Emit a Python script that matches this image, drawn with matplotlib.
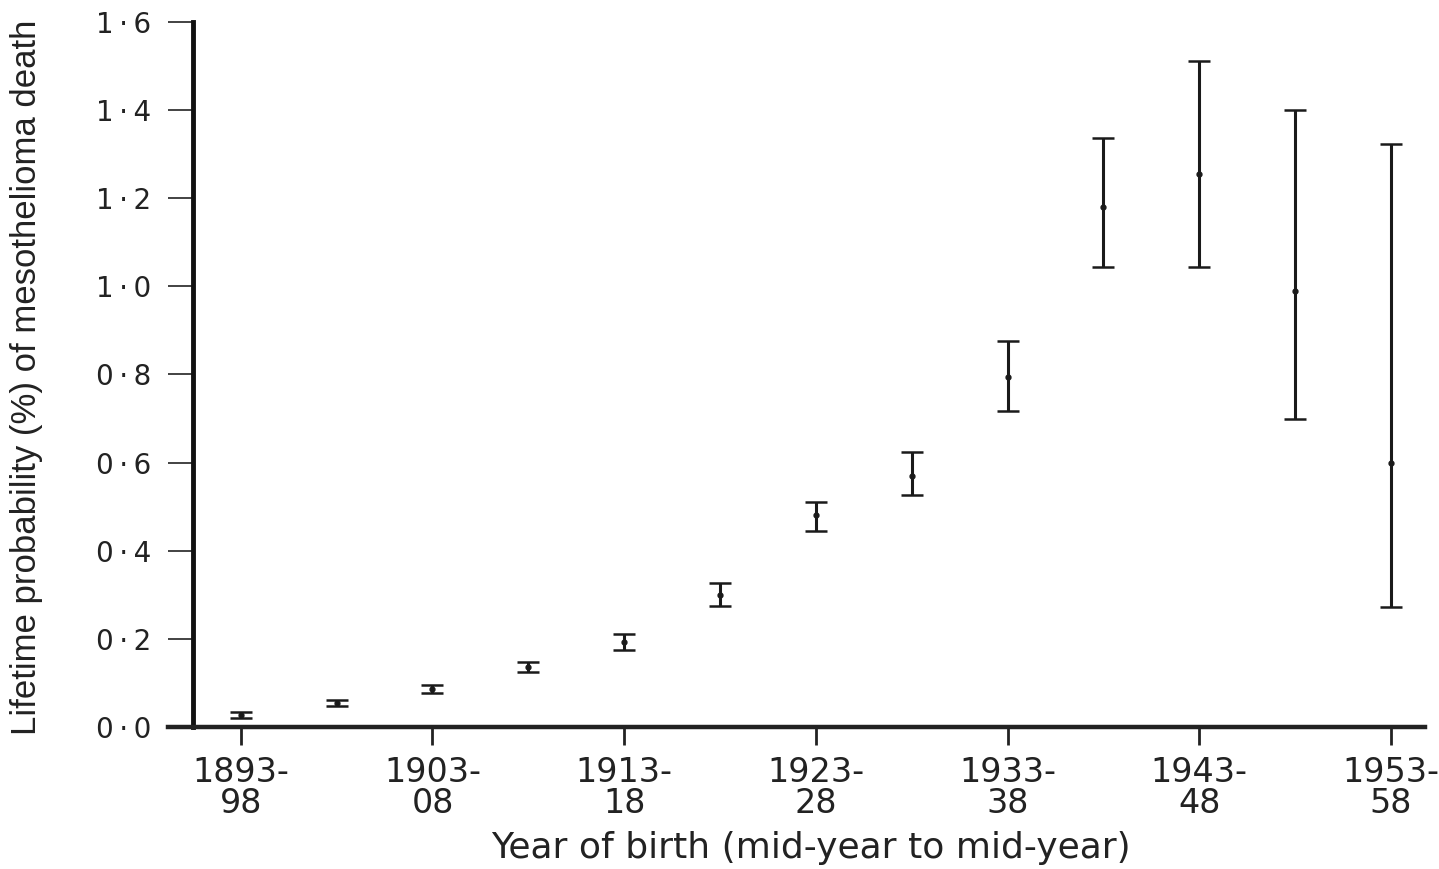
import matplotlib.pyplot as plt
import numpy as np

# Data (lifetime probability %, with lower/upper CI)
cohorts = ['1893-\n98', '1898-\n03', '1903-\n08', '1908-\n13', '1913-\n18', '1918-\n23',
           '1923-\n28', '1928-\n33', '1933-\n38', '1938-\n43', '1943-\n48', '1948-\n53', '1953-\n58']
prob = [0.027, 0.055, 0.086, 0.136, 0.193, 0.300, 0.480, 0.570, 0.795, 1.180, 1.255, 0.990, 0.600]
lower = [0.020, 0.048, 0.077, 0.124, 0.175, 0.275, 0.445, 0.527, 0.718, 1.045, 1.045, 0.698, 0.273]
upper = [0.034, 0.062, 0.095, 0.148, 0.210, 0.327, 0.511, 0.623, 0.877, 1.336, 1.511, 1.400, 1.323]
yticks = [0.0, 0.2, 0.4, 0.6, 0.8, 1.0, 1.2, 1.4, 1.6]

x = np.arange(len(cohorts))
prob = np.array(prob)
err = [prob - np.array(lower), np.array(upper) - prob]

fig = plt.figure(figsize=(14.39, 8.69), dpi=100)
ax = fig.add_axes([0.134, 0.1634, 0.856, 0.8113])

ax.errorbar(x, prob, yerr=err, fmt='o', color='#1a1a1a', markersize=3.5,
            elinewidth=2.2, capsize=8, capthick=1.8)

ax.set_xlim(-0.5, 12.35)
ax.set_ylim(0, 1.6)

ax.set_xticks(x[::2])
ax.set_xticklabels(cohorts[::2], fontsize=24, color='#222222', linespacing=0.9)
ax.set_yticks(yticks)
ax.set_yticklabels([f'{v:.1f}'.replace('.', '\u2009\u00b7\u2009') for v in yticks],
                   fontsize=20, color='#222222')

ax.tick_params(axis='x', length=13, width=2, direction='out', pad=8, color='#222222')
ax.tick_params(axis='y', length=18, width=1.2, direction='out', pad=12, color='#222222')

ax.spines['top'].set_visible(False)
ax.spines['right'].set_visible(False)
ax.spines['left'].set_linewidth(3.5)
ax.spines['bottom'].set_linewidth(3.2)
ax.spines['left'].set_color('#111111')
ax.spines['bottom'].set_color('#222222')
ax.spines['bottom'].set_bounds(-0.76, 12.35)

ax.set_xlabel('Year of birth (mid-year to mid-year)', fontsize=26, color='#222222')
ax.xaxis.set_label_coords(0.502, -0.148)
ax.set_ylabel('Lifetime probability (%) of mesothelioma death', fontsize=25,
              color='#222222', family=['Liberation Sans', 'DejaVu Sans'])
ax.yaxis.set_label_coords(-0.122, 0.496)

fig.savefig('out.png', dpi=100, facecolor='white')
